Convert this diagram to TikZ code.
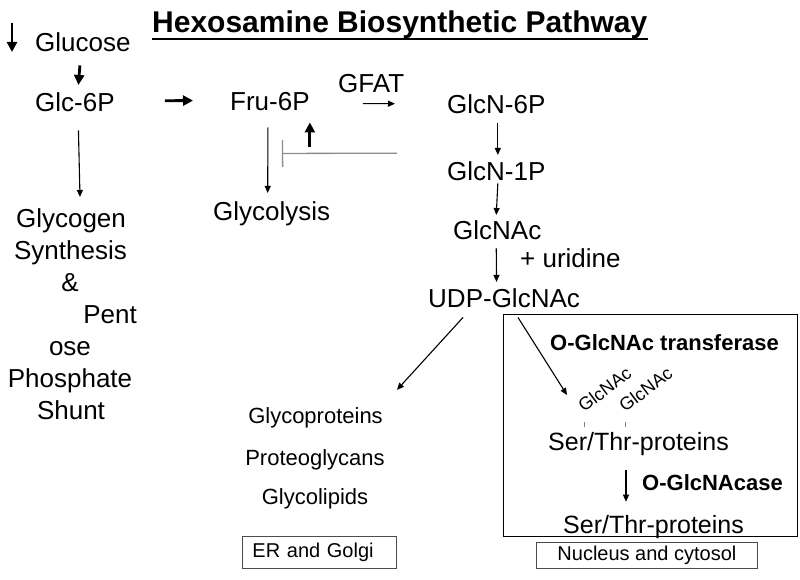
\documentclass[tikz,border=0pt]{standalone}
\usepackage{fontspec}
\setmainfont{Liberation Sans}
\usetikzlibrary{arrows.meta}
\begin{document}
\begin{tikzpicture}[x=1pt,y=-1pt,
  big/.style={inner sep=0pt, anchor=base west, font=\fontsize{26}{28}\selectfont},
  bigc/.style={big, anchor=base},
  med/.style={inner sep=0pt, anchor=base west, font=\fontsize{25}{27}\selectfont},
  smallc/.style={inner sep=0pt, anchor=base, font=\fontsize{22}{24}\selectfont},
  bld/.style={inner sep=0pt, anchor=base west, font=\fontsize{22}{24}\selectfont\bfseries},
  tag/.style={inner sep=0pt, anchor=base west, rotate=37, font=\fontsize{18}{20}\selectfont},
  boxst/.style={draw=black!70, line width=0.9pt, inner sep=0pt, font=\fontsize{20}{22}\selectfont},
  arr/.style={-{Triangle[length=7pt,width=6pt]}, line width=1.1pt},
  tarr/.style={-{Triangle[length=10pt,width=10pt]}, line width=2.8pt},
  inhib/.style={draw=black!45, line width=1.3pt, -{Bar[width=27pt,line width=1.3pt]}}
]
\useasboundingbox (0,0) rectangle (800,580);

% title
\node[inner sep=0pt, anchor=base west, font=\fontsize{30}{32}\selectfont\bfseries] (title) at (152,33) {Hexosamine Biosynthetic Pathway};
\draw[line width=2.5pt] ([shift={(0,6)}]title.base west) -- ([shift={(0,6)}]title.base east);

% left column
\node[big] (glucose) at (35,52) {Glucose};
\node[big] (glc6p) at (35,112) {Glc-6P};
\node[bigc] (glycogen) at (71,227) {Glycogen};
\node[bigc] (synth) at (70.5,259) {Synthesis};
\node[bigc] (amp) at (70,291) {\&};
\node[bigc] (pent) at (110,323) {Pent};
\node[bigc] (ose) at (70,355) {ose};
\node[bigc] (phos) at (70,387) {Phosphate};
\node[bigc] (shunt) at (71,419) {Shunt};

% middle
\node[big] (fru6p) at (230,111) {Fru-6P};
\node[big] (gfat) at (338,93) {GFAT};
\node[big] (glycolysis) at (213,220) {Glycolysis};

% right column
\node[big] (glcn6p) at (447,114) {GlcN-6P};
\node[big] (glcn1p) at (447,181) {GlcN-1P};
\node[big] (glcnac) at (453,240) {GlcNAc};
\node[big] (uridine) at (520,267) {+ uridine};
\node[big] (udp) at (428,307) {UDP-GlcNAc};

% ER products
\node[smallc] (glycoprot) at (315.5,423) {Glycoproteins};
\node[smallc] (proteogly) at (315,465) {Proteoglycans};
\node[smallc] (glycolip) at (315,504) {Glycolipids};
\node[boxst, anchor=north west, minimum height=32pt, text width=134pt, inner xsep=10pt, align=left] (er) at (242,536) {ER and Golgi};

% nucleus / cytosol box
\node[draw=black, line width=1.3pt, inner sep=0pt, minimum width=294pt, minimum height=222pt, anchor=north west] (cyto) at (503,314) {};
\node[bld] (ogt) at (550,350) {O-GlcNAc transferase};
\node[tag] (tagA) at (584,413) {GlcNAc};
\node[tag] (tagB) at (625,413) {GlcNAc};
\node[med] (ser1) at (548,450) {Ser/Thr-proteins};
\node[bld] (ogase) at (642,490) {O-GlcNAcase};
\node[med] (ser2) at (563,533) {Ser/Thr-proteins};
\node[boxst, anchor=north west, minimum width=221pt, minimum height=26pt] (nuc) at (536,542) {Nucleus and cytosol};

% thick indicator arrows
\draw[tarr] ([shift={(-23,-29)}]glucose.base west) -- ([shift={(-23,0)}]glucose.base west);
\draw[tarr] ([shift={(-3,13)}]glucose.south) -- ([shift={(3.5,-8)}]glc6p.north);
\draw[tarr] ([shift={(50,-2)}]glc6p.east) -- ([shift={(-37,-1.5)}]fru6p.west);
\draw[tarr] ([shift={(0,36)}]fru6p.south east) -- ([shift={(0,11)}]fru6p.south east);

% thin arrows
\draw[arr] ([shift={(3.5,18)}]glc6p.south) -- ([shift={(9,-11)}]glycogen.north);
\draw[arr] ([shift={(-2,16)}]fru6p.south) -- ([shift={(-4,-8)}]glycolysis.north);
\draw[arr] ([shift={(53,1.5)}]fru6p.east) -- ([shift={(-52,-1)}]glcn6p.west);
\draw[arr] ([shift={(1.5,9)}]glcn6p.south) -- ([shift={(1.5,-7)}]glcn1p.north);
\draw[arr] ([shift={(1.5,2)}]glcn1p.south) -- ([shift={(-1,-6)}]glcnac.north);
\draw[arr] ([shift={(-1,8)}]glcnac.south) -- ([shift={(-7.5,-6)}]udp.north);
\draw[arr] ([shift={(35,10)}]udp.south west) -- ([shift={(14,-17)}]glycoprot.north east);
\draw[arr] ([shift={(90,10)}]udp.south west) -- ([shift={(-17,-18)}]tagA.base west);
\draw[arr] ([shift={(78,15)}]ser1.south west) -- ([shift={(63,-13)}]ser2.north west);

% inhibition
\draw[inhib] ([shift={(-50,48.5)}]glcn6p.west) -- ([shift={(12,42)}]fru6p.south);

% attachment ticks
\draw[black!50, line width=0.8pt] ([shift={(0,9)}]tagA.base west) -- ([shift={(0,14)}]tagA.base west);
\draw[black!50, line width=0.8pt] ([shift={(0,9)}]tagB.base west) -- ([shift={(0,14)}]tagB.base west);
\end{tikzpicture}
\end{document}
